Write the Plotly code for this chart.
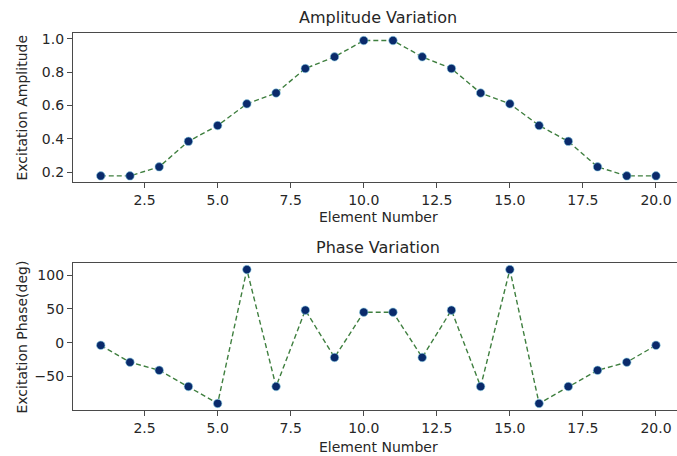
import plotly.graph_objects as go

elements = list(range(1, 21))
amplitude = [0.178, 0.178, 0.232, 0.385, 0.48, 0.61, 0.675, 0.822, 0.892, 0.99,
             0.99, 0.892, 0.822, 0.675, 0.61, 0.48, 0.385, 0.232, 0.178, 0.178]
phase = [-4, -29, -41, -65, -90, 108, -65, 48, -22, 45,
         45, -22, 48, -65, 108, -90, -65, -41, -29, -4]

x_ticks = [2.5, 5.0, 7.5, 10.0, 12.5, 15.0, 17.5, 20.0]
x_ticktext = ["2.5", "5.0", "7.5", "10.0", "12.5", "15.0", "17.5", "20.0"]
amp_ticks = [0.2, 0.4, 0.6, 0.8, 1.0]
amp_ticktext = ["0.2", "0.4", "0.6", "0.8", "1.0"]
phase_ticks = [-50, 0, 50, 100]
phase_ticktext = ["\u221250", "0", "50", "100"]

W, H = 677, 456
L = 73
FONT = "DejaVu Sans"
TXT = "#262626"
LINE_C = "#4a4a4a"
MARK_C = "#0a2a6b"
DASH_C = "#3f7f3f"

fig = go.Figure()
for y, xa, ya in [(amplitude, "x", "y"), (phase, "x2", "y2")]:
    fig.add_trace(go.Scatter(
        x=elements, y=y, xaxis=xa, yaxis=ya, mode="lines+markers",
        line=dict(color=DASH_C, width=1.4, dash="5px,3px"),
        marker=dict(color=MARK_C, size=8.5, line=dict(width=0.6, color="#8fd3e8")),
        showlegend=False, hoverinfo="skip"))

xr = [0.05, 20.0 + (677 - 656) / 29.2]

def yd(top, bot):
    return [1 - bot / H, 1 - top / H]

common_x = dict(range=xr, showline=True, linecolor=LINE_C, linewidth=1.3,
                mirror=True, ticks="outside", ticklen=5, tickcolor=LINE_C,
                tickvals=x_ticks, ticktext=x_ticktext, showgrid=False,
                zeroline=False, tickfont=dict(family=FONT, size=14, color=TXT))
common_y = dict(showline=True, linecolor=LINE_C, linewidth=1.3, mirror=False,
                ticks="outside", ticklen=5, tickcolor=LINE_C, showgrid=False,
                zeroline=False, tickfont=dict(family=FONT, size=14, color=TXT))

fig.update_layout(
    width=W, height=H, margin=dict(l=L, r=0, t=0, b=0),
    paper_bgcolor="white", plot_bgcolor="white",
    xaxis=dict(domain=[0, 1], anchor="y", **common_x),
    yaxis=dict(domain=yd(31, 181), anchor="x", range=[0.14, 1.036],
               tickvals=amp_ticks, ticktext=amp_ticktext, **common_y),
    xaxis2=dict(domain=[0, 1], anchor="y2", **common_x),
    yaxis2=dict(domain=yd(262, 410), anchor="x2", range=[-100, 118],
                tickvals=phase_ticks, ticktext=phase_ticktext, **common_y),
)

pw = W - L
def px(xpix):
    return (xpix - L) / pw
def py(ypix):
    return 1 - ypix / H

cx = px(378)
ann = [
    ("Amplitude Variation", cx, py(16), 16, 0),
    ("Element Number", cx, py(216), 14, 0),
    ("Phase Variation", cx, py(247), 16, 0),
    ("Element Number", cx, py(447), 14, 0),
    ("Excitation Amplitude", px(22), py(106), 14, -90),
    ("Excitation Phase(deg)", px(22), py(337), 14, -90),
]
for text, x, y, size, ang in ann:
    fig.add_annotation(text=text, x=x, y=y, xref="paper", yref="paper",
                       xanchor="center", yanchor="middle", showarrow=False,
                       textangle=ang, font=dict(family=FONT, size=size, color=TXT))

fig.write_html("out.html")
